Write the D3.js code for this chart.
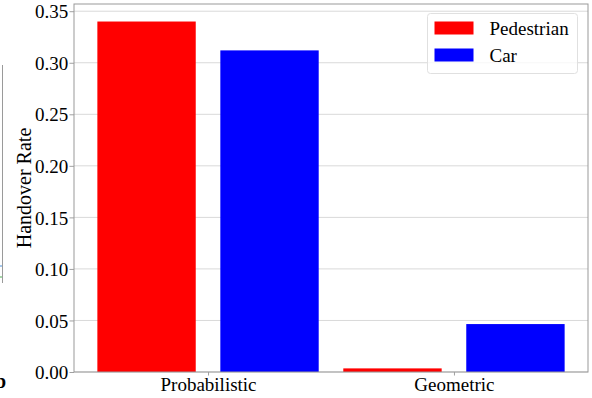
<!DOCTYPE html>
<html>
<head>
<meta charset="utf-8">
<script src="https://cdn.jsdelivr.net/npm/d3@7"></script>
<style>
  html, body { margin: 0; padding: 0; background: #fff; }
  svg { display: block; font-family: "Liberation Serif", "Times New Roman", serif; }
</style>
</head>
<body>
<svg id="chart" width="592" height="398"></svg>
<script>
// Handover rate per method, for each mobility type
const methods = ["Probabilistic", "Geometric"];
const seriesNames = ["Pedestrian", "Car"];
const seriesColors = ["#ff0000", "#0000ff"];
const pedestrianValues = [0.340, 0.0035];
const carValues = [0.312, 0.0465];
const yTicks = [0.00, 0.05, 0.10, 0.15, 0.20, 0.25, 0.30, 0.35];

const seriesValues = [pedestrianValues, carValues];

const svg = d3.select("#chart");
const W = 592, H = 398;
const margin = { left: 74, right: 4, top: 4, bottom: 26 };
const plotW = W - margin.left - margin.right;
const plotH = H - margin.top - margin.bottom;
const serif = "'Liberation Serif', 'Times New Roman', serif";

// Fragment of the neighbouring panel at the left edge
svg.append("line")
  .attr("x1", 2.5).attr("x2", 2.5).attr("y1", 65).attr("y2", 283)
  .attr("stroke", "#9a9a9a").attr("stroke-width", 1);
svg.append("line").attr("x1", 0).attr("x2", 2).attr("y1", 266).attr("y2", 266)
  .attr("stroke", "#4a90d9").attr("stroke-width", 1);
svg.append("line").attr("x1", 0).attr("x2", 2).attr("y1", 277).attr("y2", 277)
  .attr("stroke", "#4caf50").attr("stroke-width", 1);
svg.append("text")
  .attr("x", -5).attr("y", 388)
  .attr("font-size", 20).attr("font-weight", "bold")
  .text("b");

const g = svg.append("g").attr("transform", `translate(${margin.left},${margin.top})`);

// Numeric x positions: categories at 0 and 1, bars offset by ±0.25 with width 0.4
const barWidth = 0.4, offsets = [-0.25, 0.25];
const x = d3.scaleLinear().domain([-0.545, 1.545]).range([0, plotW]);
const y = d3.scaleLinear().domain([0, 0.357]).range([plotH, 0]);

// Grid
g.append("g")
  .selectAll("line")
  .data(yTicks)
  .join("line")
  .attr("x1", 0).attr("x2", plotW)
  .attr("y1", d => y(d)).attr("y2", d => y(d))
  .attr("stroke", "#d9d9d9").attr("stroke-width", 1);

// Bars
seriesValues.forEach((vals, si) => {
  g.append("g")
    .selectAll("rect")
    .data(vals)
    .join("rect")
    .attr("x", (d, i) => x(i + offsets[si] - barWidth / 2))
    .attr("width", (d, i) => x(i + offsets[si] + barWidth / 2) - x(i + offsets[si] - barWidth / 2))
    .attr("y", d => y(d))
    .attr("height", d => y(0) - y(d))
    .attr("fill", seriesColors[si]);
});

// Axes
const yAxis = d3.axisLeft(y).tickValues(yTicks).tickFormat(d3.format(".2f")).tickSize(4.5).tickPadding(1.3);
const xAxis = d3.axisBottom(x).tickValues([0, 1]).tickFormat(i => methods[i]).tickSize(3.5).tickPadding(2);

const ya = g.append("g").call(yAxis);
const xa = g.append("g").attr("transform", `translate(0,${plotH})`).call(xAxis);
[ya, xa].forEach(a => {
  a.attr("font-family", serif);
  a.select(".domain").remove();
  a.selectAll(".tick line").attr("stroke", "#a0a0a0");
  a.selectAll("text").attr("font-size", 19).attr("fill", "#000");
});
ya.selectAll("text").attr("dy", "0.35em");

// Frame
g.append("rect")
  .attr("x", 0).attr("y", 0).attr("width", plotW).attr("height", plotH)
  .attr("fill", "none").attr("stroke", "#999").attr("stroke-width", 1);

// Y label
svg.append("text")
  .attr("transform", `translate(31,${margin.top + plotH / 2}) rotate(-90)`)
  .attr("text-anchor", "middle")
  .attr("font-size", 20)
  .text("Handover Rate");

// Legend
const lg = svg.append("g").attr("transform", "translate(427.5,13.5)");
lg.append("rect")
  .attr("x", 0).attr("y", 0).attr("width", 150).attr("height", 60)
  .attr("rx", 3).attr("fill", "#fff").attr("fill-opacity", 0.8)
  .attr("stroke", "#e0e0e0").attr("stroke-width", 1);
seriesNames.forEach((name, i) => {
  lg.append("rect")
    .attr("x", 7).attr("y", 8 + i * 27).attr("width", 39).attr("height", 13)
    .attr("fill", seriesColors[i]);
  lg.append("text")
    .attr("x", 62).attr("y", 21.5 + i * 27)
    .attr("font-size", 19)
    .text(name);
});
</script>
</body>
</html>
